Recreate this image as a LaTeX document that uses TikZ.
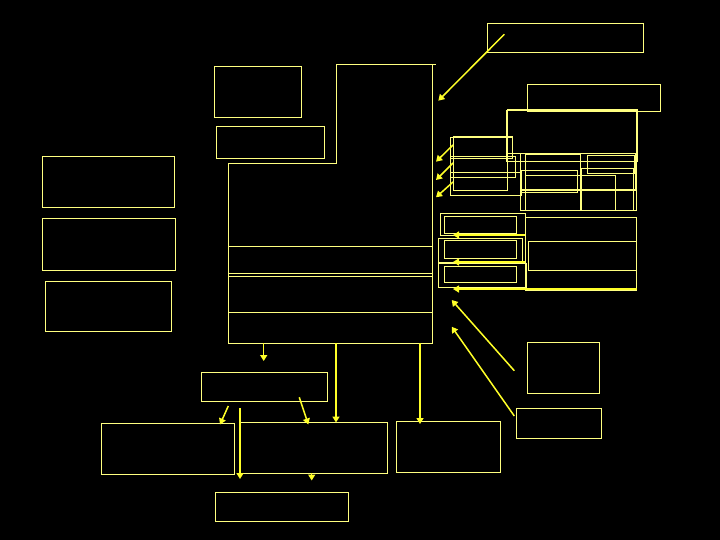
\documentclass[tikz,border=0pt]{standalone}
\usepackage{tikz}
\usetikzlibrary{arrows.meta,fit}
\definecolor{wire}{RGB}{255,255,128}
\definecolor{tip}{RGB}{255,255,40}

\begin{document}
\begin{tikzpicture}[x=1pt,y=-1pt,>={Triangle[length=6pt,width=7pt]}]
    \tikzstyle{box}=[draw=wire,line width=0.8pt,inner sep=0pt,outer sep=0pt]
    \tikzstyle{link}=[->,draw=tip,fill=tip,line width=1.5pt]
    \tikzstyle{frame}=[draw=wire,line width=0.8pt]

    \useasboundingbox[fill=black] (0,0) rectangle (720,540);

    % Draw the main block
    \draw[frame] (336.7,64.3) -- (436,64.3);
    \draw[frame] (432.3,64.3) -- (432.3,343) -- (228.3,343) -- (228.3,163.3)
        -- (336.7,163.3) -- (336.7,64.3);
    \foreach \name/\ya/\yb in {M-1/246.7/273.3,M-2/276/312.3,M-3/312.3/343}
        \node[box, fit={(228.3,\ya) (432.3,\yb)}] (\name) {};

    % Draw the boxes on the left and at the top
    \foreach \name/\xa/\ya/\xb/\yb in {L-1/42/156/174/207,L-2/42/218/175/270,
        L-3/45/281/171/331,T-1/214.3/66/301.7/117.3,T-2/216/126.7/324.7/158.7,
        R-1/487.3/23.3/643.3/52.3,R-2/527.3/84.3/660.7/111}
        \node[box, fit={(\xa,\ya) (\xb,\yb)}] (\name) {};

    % Draw the boxes below the main block
    \foreach \name/\xa/\ya/\xb/\yb in {B-1/201/372.3/327.7/401.3,
        B-2/101.3/423.3/234.3/474.3,B-3/240/422.3/387.3/473.3,
        B-4/396/421/500.7/472.7,B-5/215.3/492.3/348.7/521.7,
        S-1/527.3/342.3/599.7/393.3,S-2/516.3/408.3/601.7/438.3}
        \node[box, fit={(\xa,\ya) (\xb,\yb)}] (\name) {};

    % Draw the stacked boxes on the right
    \foreach \name/\xa/\ya/\xb/\yb in {H-1/506/110/637.3/161.7,H-2/507.3/109.3/636.7/153,
        A-1/450.7/137.3/512.7/158.3,A-2/453.3/136.7/507.3/190.7,
        A-3/450.7/156/515.7/177.3,A-4/450.7/172.7/521.7/195,
        G-1/520/153.3/636.7/210,G-2/525/154/580/210,G-3/521/170.7/577/192.3,
        G-4/525/175/615/210,G-5/580/153.3/635/190,G-6/581.7/168.3/633.3/210,
        G-7/587/155/634/173}
        \node[box, fit={(\xa,\ya) (\xb,\yb)}] (\name) {};
    \draw[frame,line width=2pt] (527.3,110) -- (637.3,110) -- (637.3,161.7);
    \draw[frame,line width=1.6pt] (520,190) -- (636.7,190);
    \draw[frame,line width=1.6pt] (453.3,136.7) -- (512.7,136.7);

    % Draw the three framed slots
    \foreach \name/\xa/\ya/\xb/\yb in {C-1/440.7/213.3/525/235.7,C-2/438.3/238.3/522.7/262.3,
        C-3/438.3/263.3/526.7/287.3,D-1/444/216.7/516.7/233.3,D-2/444/240/516.7/258.3,
        D-3/444/266/516.7/282.7,P-1/525/217.3/636.7/290,P-2/528.3/241/636.7/270.7}
        \node[box, fit={(\xa,\ya) (\xb,\yb)}] (\name) {};

    % Free ends of the connectors
    \foreach \name/\x/\y in {s-1/504.3/34.3,e-1/438.3/100.7,
        s-2/453/145,e-2/436/161.7,s-3/453/163,e-3/436/180,s-4/453/182,e-4/436/197.3,
        s-5/525/235,e-5/453/235,s-6/525/262,e-6/453/262,s-7/636.7/289,e-7/453/289,
        s-8/514.3/370.7,e-8/451.7/300,s-9/514.3/416,e-9/451.7/326.7,
        s-10/263.7/343,e-10/263.7/361,s-11/336/343,e-11/336/422.5,
        s-12/420/343,e-12/420/424,s-13/228.3/406,e-13/220/424.5,
        s-14/299.3/397.3,e-14/308.3/424.5,s-15/240/408,e-15/240/479,
        s-16/311.7/473.3,e-16/311.7/480.5}
        \coordinate (\name) at (\x,\y);

    % Connect the free ends
    \foreach \i in {1,...,16}
        \draw[link] (s-\i) -- (e-\i);
\end{tikzpicture}
\end{document}
